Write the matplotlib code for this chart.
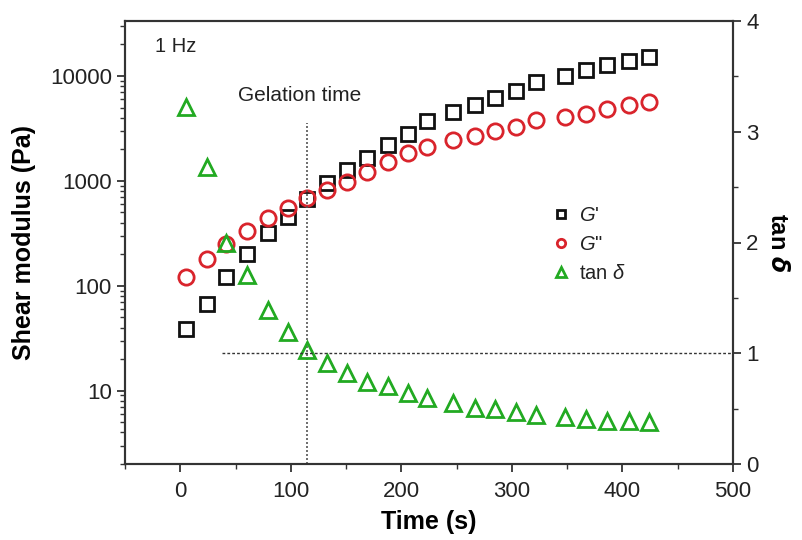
import matplotlib
matplotlib.use("Agg")
import matplotlib.pyplot as plt
from matplotlib.ticker import MultipleLocator, LogLocator, FixedLocator, NullFormatter
from matplotlib.lines import Line2D

plt.rcParams['font.family'] = ['Liberation Sans', 'DejaVu Sans']
plt.rcParams['mathtext.fontset'] = 'custom'
plt.rcParams['mathtext.it'] = 'Liberation Sans:italic'
plt.rcParams['mathtext.rm'] = 'Liberation Sans'
plt.rcParams['mathtext.bf'] = 'Liberation Sans:bold'

time_s = [5, 24, 41, 60, 79, 97, 115, 133, 151, 169, 188, 206, 223, 247, 267, 285, 304, 322, 348, 367, 386, 406, 424]
g_storage = [39, 67, 122, 202, 320, 454, 676, 960, 1270, 1660, 2200, 2800, 3730, 4540, 5300, 6170, 7200, 8770, 10000, 11400, 12700, 13900, 15100]
g_loss = [122, 181, 251, 334, 444, 553, 689, 820, 978, 1218, 1520, 1850, 2110, 2460, 2700, 2990, 3270, 3800, 4070, 4350, 4850, 5300, 5650]
tan_delta = [3.22, 2.68, 2.00, 1.71, 1.39, 1.19, 1.03, 0.91, 0.82, 0.74, 0.70, 0.64, 0.60, 0.55, 0.51, 0.50, 0.47, 0.44, 0.42, 0.41, 0.39, 0.39, 0.38]
gel_time = 115
series_labels = ["$G$'", '$G$"', r'tan $\delta$']

black = '#111111'
red = '#d9242c'
green = '#22aa22'
spine_c = '#333333'

fig = plt.figure(figsize=(8.02, 5.40), dpi=100)
ax = fig.add_axes([125/802, 1-464/540, (733-125)/802, (464-21)/540])
ax2 = ax.twinx()

ax.plot(time_s, g_storage, ls='none', marker='s', ms=10, mfc='none', mec=black, mew=2.0)
ax.plot(time_s, g_loss, ls='none', marker='o', ms=11, mfc='none', mec=red, mew=2.0)
ax2.plot(time_s, tan_delta, ls='none', marker='^', ms=12, mfc='none', mec=green, mew=2.0)

ax.set_yscale('log')
ax.set_xlim(-50, 500)
ax.set_ylim(2.0, 33400)
ax2.set_ylim(0, 4)

ax.axvline(gel_time, ymin=0, ymax=0.77, color='#555555', ls=(0, (1.2, 1.2)), lw=1.2)
ax2.plot([38, 500], [1, 1], color='#333333', ls=(0, (2, 1.5)), lw=1.0)

ax.xaxis.set_major_locator(MultipleLocator(100))
ax.xaxis.set_minor_locator(MultipleLocator(50))
ax.yaxis.set_major_locator(FixedLocator([10, 100, 1000, 10000]))
ax.yaxis.set_minor_locator(LogLocator(base=10, subs=range(2, 10)))
ax.yaxis.set_minor_formatter(NullFormatter())
ax.set_yticklabels(['10', '100', '1000', '10000'])
ax2.yaxis.set_major_locator(MultipleLocator(1))
ax2.yaxis.set_minor_locator(MultipleLocator(0.5))

for a in (ax, ax2):
    for s in a.spines.values():
        s.set_color(spine_c)
        s.set_linewidth(1.5)
ax.tick_params(axis='both', which='major', direction='out', length=6, width=1.3, labelsize=16, colors=spine_c, labelcolor='#222222')
ax.tick_params(axis='both', which='minor', direction='out', length=3.5, width=1.0, colors=spine_c)
ax.tick_params(axis='x', pad=6)
ax2.tick_params(axis='y', which='major', direction='out', length=6, width=1.3, labelsize=16, colors=spine_c, labelcolor='#222222')
ax2.tick_params(axis='y', which='minor', direction='out', length=3.5, width=1.0, colors=spine_c)

ax.set_xlabel('Time (s)', fontsize=18, fontweight='bold', labelpad=6)
ax.set_ylabel('Shear modulus (Pa)', fontsize=18, fontweight='bold', labelpad=10)
ax2.set_ylabel(r'tan $\boldsymbol{\delta}$' if False else r'tan $\mathbfit{\delta}$', fontsize=17, fontweight='bold', rotation=270, labelpad=22)

ax.text(0.05, 0.93, '1 Hz', transform=ax.transAxes, fontsize=14.5, color='#222222')
ax.text(0.186, 0.82, 'Gelation time', transform=ax.transAxes, fontsize=15, color='#222222')

handles = [
    Line2D([], [], ls='none', marker='s', ms=6, mfc='none', mec=black, mew=2.0),
    Line2D([], [], ls='none', marker='o', ms=6, mfc='none', mec=red, mew=2.0),
    Line2D([], [], ls='none', marker='^', ms=6.5, mfc='none', mec=green, mew=2.0),
]
leg = ax2.legend(handles, series_labels, loc='upper left', bbox_to_anchor=(0.69, 0.60),
                 frameon=False, fontsize=14.5, handlelength=0.8, handletextpad=0.5,
                 labelspacing=0.5, borderaxespad=0)
for t in leg.get_texts():
    t.set_color('#222222')

fig.savefig('out.png', dpi=100)
